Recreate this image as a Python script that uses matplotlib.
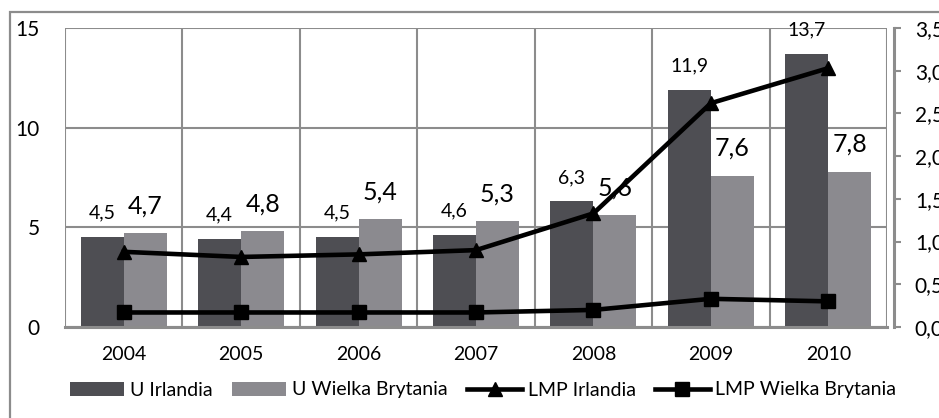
import matplotlib
matplotlib.use("Agg")
import matplotlib.pyplot as plt
import numpy as np
from matplotlib.patches import Rectangle
from matplotlib.lines import Line2D
from matplotlib.patches import Patch

plt.rcParams['font.family'] = ['Lato', 'DejaVu Sans']

years = ["2004", "2005", "2006", "2007", "2008", "2009", "2010"]
u_irl = [4.5, 4.4, 4.5, 4.6, 6.3, 11.9, 13.7]
u_uk = [4.7, 4.8, 5.4, 5.3, 5.6, 7.6, 7.8]
lmp_irl = [0.88, 0.82, 0.85, 0.90, 1.33, 2.62, 3.03]
lmp_uk = [0.17, 0.17, 0.17, 0.17, 0.20, 0.33, 0.30]
left_ticks = [0, 5, 10, 15]
right_ticks = [0.0, 0.5, 1.0, 1.5, 2.0, 2.5, 3.0, 3.5]

W, H = 939, 418
fig = plt.figure(figsize=(W / 100, H / 100), dpi=100)
fig.patch.set_facecolor("white")

# outer chart frame (cropped on right and bottom)
fig.patches.append(Rectangle((10 / W, -0.2), 1.5, (H - 12) / H + 0.2,
                             transform=fig.transFigure, fill=False,
                             edgecolor="#8c8c8c", lw=1.6))

ax = fig.add_axes([65 / W, 1 - 327 / H, (887 - 65) / W, (327 - 28) / H])
x = np.arange(len(years))
bw = 0.366
dark = "#4e4e53"
light = "#8b8a8f"
ax.bar(x - bw / 2, u_irl, bw, color=dark, zorder=2)
ax.bar(x + bw / 2, u_uk, bw, color=light, zorder=2)

for xi, v in zip(x, u_irl):
    ax.annotate(f"{v:.1f}".replace(".", ","), (xi - bw / 2, v), xytext=(0, 24),
                textcoords="offset pixels", ha="center", va="center",
                fontsize=14, color="black", zorder=3)
for xi, v in zip(x, u_uk):
    ax.annotate(f"{v:.1f}".replace(".", ","), (xi + bw / 2, v), xytext=(0, 27),
                textcoords="offset pixels", ha="center", va="center",
                fontsize=18, color="black", zorder=3)

ax.set_xlim(-0.5, len(years) - 0.5)
ax.set_ylim(0, 15)
ax.set_yticks(left_ticks)
ax.set_yticklabels([str(t) for t in left_ticks])
ax.set_xticks(x)
ax.set_xticklabels(years)
ax.set_xticks(np.arange(-0.5, len(years), 1.0), minor=True)
ax.tick_params(axis="x", which="both", length=0, pad=14, labelsize=14)
ax.tick_params(axis="y", length=0, pad=18, labelsize=15)
ax.grid(axis="y", which="major", color="#8c8c8c", lw=1.5, zorder=0)
ax.grid(axis="x", which="minor", color="#8c8c8c", lw=1.5, zorder=0)
ax.grid(axis="x", which="major", visible=False)
for s in ["top", "right", "left"]:
    ax.spines[s].set_visible(False)
ax.spines["bottom"].set_color("#8c8c8c")
ax.spines["bottom"].set_linewidth(2.2)
ax.spines["bottom"].set_zorder(3)

ax2 = ax.twinx()
ax2.plot(x, lmp_irl, color="black", lw=3.3, marker="^", markersize=10, zorder=4)
ax2.plot(x, lmp_uk, color="black", lw=3.3, marker="s", markersize=9.5, zorder=4)
ax2.set_ylim(0, 3.5)
ax2.set_yticks(right_ticks)
ax2.set_yticklabels([f"{t:.2f}".replace(".", ",") for t in right_ticks])
ax2.tick_params(axis="y", length=5, width=1.5, color="#8c8c8c", pad=10, labelsize=15)
for s in ["top", "left", "bottom"]:
    ax2.spines[s].set_visible(False)
ax2.spines["right"].set_position(("outward", 5))
ax2.spines["right"].set_color("#8c8c8c")
ax2.spines["right"].set_linewidth(2.2)

handles = [
    Patch(facecolor=dark, edgecolor="none"),
    Patch(facecolor=light, edgecolor="none"),
    Line2D([], [], color="black", lw=3.3, marker="^", markersize=10),
    Line2D([], [], color="black", lw=3.3, marker="s", markersize=9.5),
]
labels = ["U Irlandia", "U Wielka Brytania", "LMP Irlandia", "LMP Wielka Brytania"]
fig.legend(handles, labels, loc="center", bbox_to_anchor=(483 / W, 1 - 390 / H),
           ncol=4, frameon=False, fontsize=14, handlelength=2.8,
           handleheight=0.75, handletextpad=0.3, columnspacing=1.0)

fig.savefig("out.png", dpi=100)
